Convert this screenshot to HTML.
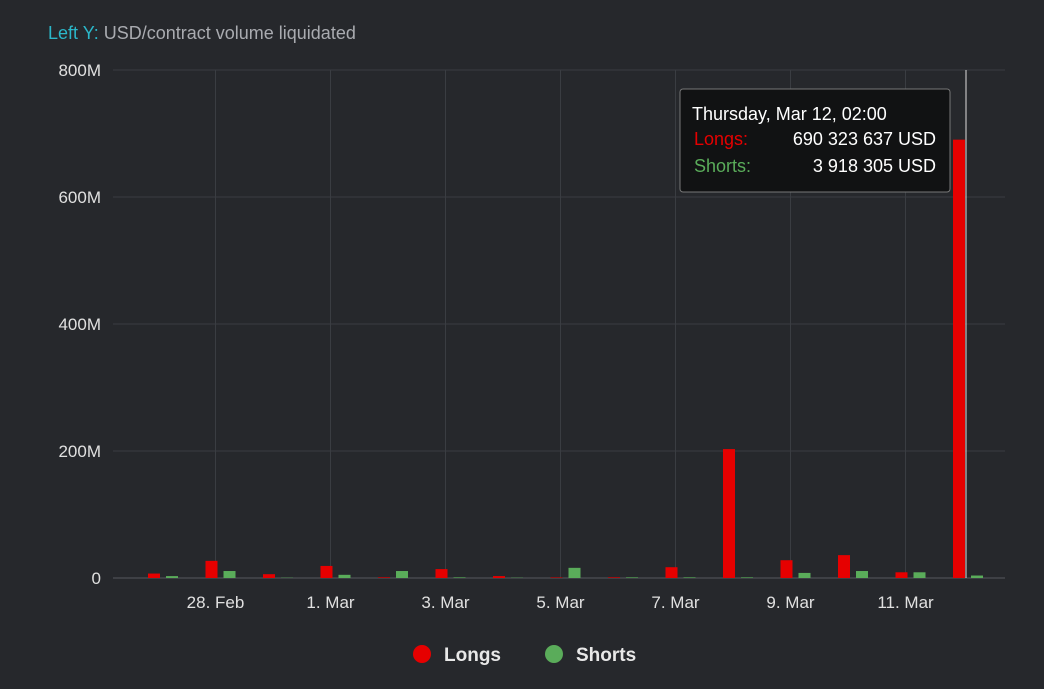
<!DOCTYPE html>
<html><head><meta charset="utf-8"><style>
body{margin:0;background:#26282c;width:1044px;height:684px;overflow:hidden;font-family:"Liberation Sans",sans-serif}
svg text{font-family:"Liberation Sans",sans-serif}
</style></head><body>
<svg id="chart" width="1044" height="684" xmlns="http://www.w3.org/2000/svg">
<rect width="1044" height="684" fill="#26282c"/>
<text x="48" y="39" font-size="18" fill="#a9abb0"><tspan fill="#2bb7c9">Left Y:</tspan> USD/contract volume liquidated</text>
<g id="grid"></g><g id="bars"></g><g id="labels"></g>
<line x1="966" y1="70" x2="966" y2="578" stroke="#ddd" stroke-width="1"/>
<g>
<rect x="680" y="89" width="270" height="103" rx="3" fill="#111213" stroke="#777" stroke-width="1"/>
<text x="692" y="120" font-size="18" fill="#fff">Thursday, Mar 12, 02:00</text>
<text x="694" y="145" font-size="18" fill="#e60000">Longs:</text>
<text x="936" y="145" font-size="18" fill="#fff" text-anchor="end">690 323 637 USD</text>
<text x="694" y="172" font-size="18" fill="#5aac5a">Shorts:</text>
<text x="936" y="172" font-size="18" fill="#fff" text-anchor="end">3 918 305 USD</text>
</g>
<g>
<g><circle cx="422" cy="654" r="9" fill="#e60000"/><text x="444" y="661" font-size="19" font-weight="bold" fill="#e8e8e8">Longs</text></g>
<g><circle cx="554" cy="654" r="9" fill="#5aac5a"/><text x="576" y="661" font-size="19" font-weight="bold" fill="#e8e8e8">Shorts</text></g>
</g>
</svg>
<script>
const categories=["27 Feb","28 Feb","29 Feb","1 Mar","2 Mar","3 Mar","4 Mar","5 Mar","6 Mar","7 Mar","8 Mar","9 Mar","10 Mar","11 Mar","12 Mar"];
const longs=[7,27,6,19,1,14,3,0.8,1,17,203,28,36,9,690.3];
const shorts=[3,11,0.5,5,11,1,0.5,16,1,1,1,8,11,9,3.9];
const yTicks=[0,200,400,600,800];
const yTickLabels=["0","200M","400M","600M","800M"];
const xTickIdx=[1,3,5,7,9,11,13];
const xTickLabels=["28. Feb","1. Mar","3. Mar","5. Mar","7. Mar","9. Mar","11. Mar"];
const NS="http://www.w3.org/2000/svg";
const X0=113,X1=1005,Y0=578,Y1=70,MAX=800;
function y(v){return Y0-(v/MAX)*(Y0-Y1);}
function xc(i){return 163+57.5*i;}
function mk(t,a,p){const e=document.createElementNS(NS,t);for(const k in a)e.setAttribute(k,a[k]);p.appendChild(e);return e;}
const grid=document.getElementById('grid'),bars=document.getElementById('bars'),labels=document.getElementById('labels');
yTicks.forEach((v,k)=>{
 const l=mk('line',{x1:X0,x2:X1,y1:y(v),y2:y(v),stroke:v===0?'#55585e':'#3a3d42','stroke-width':1},grid);
 
 
 const t=mk('text',{x:101,y:y(v)+6,'font-size':17,fill:'#e0e0e0','text-anchor':'end'},labels);
 t.textContent=yTickLabels[k];
 
 
});
xTickIdx.forEach((i,k)=>{
 const x=xc(i)-5;
 const l=mk('line',{x1:x,x2:x,y1:Y1,y2:Y0,stroke:'#3a3d42','stroke-width':1},grid);
 
 
 const t=mk('text',{x:x,y:608,'font-size':17,fill:'#e0e0e0','text-anchor':'middle'},labels);
 t.textContent=xTickLabels[k];
 
 
});
categories.forEach((c,i)=>{
 const r=mk('rect',{x:xc(i)-15,y:y(longs[i]),width:12,height:Y0-y(longs[i]),fill:'#e60000'},bars);
 
 
 const g=mk('rect',{x:xc(i)+3,y:y(shorts[i]),width:12,height:Y0-y(shorts[i]),fill:'#5aac5a'},bars);
 
 
});
</script>
</body></html>
